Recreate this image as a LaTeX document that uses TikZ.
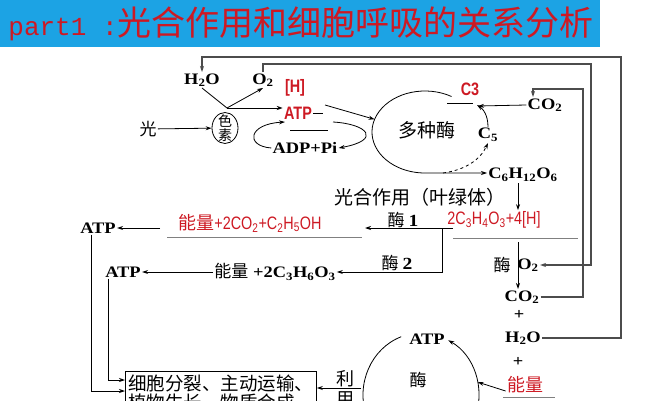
\documentclass[tikz,border=0pt]{standalone}
\usepackage{fontspec}
\setmainfont{Liberation Serif}[FakeStretch=1.15]
\newfontfamily\cjk{Noto Sans CJK SC}
\newfontfamily\labsans{Liberation Sans}[FakeStretch=0.8]
\newfontfamily\titlemono{Liberation Mono}
\usetikzlibrary{arrows.meta,calc,positioning,shapes.geometric}
\definecolor{bannerblue}{RGB}{28,163,228}
\definecolor{markred}{RGB}{205,25,35}

\begin{document}
\begin{tikzpicture}[x=1pt, y=1pt, line width=0.8pt,
    arr/.style={-{Stealth[length=6pt,width=4pt]}},
    back/.style={line width=1.2pt, draw=black!70},
    fml/.style={font=\fontsize{16}{18}\selectfont\bfseries, inner sep=1pt},
    zh/.style={font=\fontsize{17}{19}\selectfont\cjk, inner sep=1pt},
    redtag/.style={font=\fontsize{18}{20}\selectfont\labsans\bfseries, text=markred, inner sep=1pt},
    redfml/.style={font=\fontsize{18}{20}\selectfont\labsans, text=markred, inner sep=1pt},
    underrule/.style={draw=black!50}]
    \useasboundingbox (0,0) rectangle (667,400);
    \clip (0,0) rectangle (667,400);

    % Title banner
    \fill[bannerblue] (0,353) rectangle (600,400);
    \node[anchor=west, text=markred, inner sep=0pt] (title) at (8,376)
        {{\titlemono\fontsize{26}{28}\selectfont part1 :}{\cjk\fontsize{34}{36}\selectfont 光合作用和细胞呼吸的关系分析}};

    % Light reactions
    \node[zh] (light) at (148,271) {光};
    \node[draw, ellipse, minimum width=26, minimum height=31, inner sep=0pt] (pigment) at (225,272) {};
    \node[align=center, inner sep=0pt, font=\fontsize{14}{14}\selectfont\cjk] (pigtext) at (pigment) {色\\素};
    \node[fml] (h2o) at (202,320) {H\textsubscript{2}O};
    \node[fml] (o2) at (263,320) {O\textsubscript{2}};
    \node[redtag] (hydro) at (295,312) {[H]};
    \node[redtag] (atpl) at (298,287) {ATP};
    \node[fml] (adp) at (305,252) {ADP+Pi};
    \coordinate (split) at (227,292);

    \draw[arr] (light) -- (pigment);
    \draw (h2o.south) -- (split);
    \draw[arr] (split) -- (o2.south);
    \draw[arr] (split) -- (split -| atpl.west);
    \draw (atpl.east) -- ++(10,0);
    \draw (290,270) -- (328,270);
    \draw[arr] (adp.west) .. controls (245,254) and (248,276) .. (285,278);

    % Calvin cycle
    \coordinate (cyc) at (425,268);
    \node[zh, font=\fontsize{19}{21}\selectfont\cjk] (multi) at (427,270) {多种酶};
    \node[redtag] (c3) at (470,311) {C3};
    \node[fml] (co2t) at (545,295) {CO\textsubscript{2}};
    \node[fml] (c5) at (488,265) {C\textsubscript{5}};
    \node[fml] (c6) at (523,225) {C\textsubscript{6}H\textsubscript{12}O\textsubscript{6}};
    \node[zh, font=\fontsize{19}{21}\selectfont\cjk] (chloro) at (420,203) {光合作用（叶绿体）};

    \draw[arr] (325,295) -- ($(cyc)+(162:53 and 41)$);
    \draw[arr] (333,278) .. controls (368,276) and (382,260) .. (adp.east);
    \draw[arr] (cyc) ++(60:53 and 41) arc[start angle=60, end angle=270, x radius=53, y radius=41]
        -- (c6.west |- 0,227);
    \draw (447,297) -- (473,297);
    \draw[arr] (co2t.west) -- (478,294);
    \draw[arr] (c5.north) .. controls (488,285) and (483,291) .. (477,295);
    \draw[arr, dashed] (443,227) .. controls (465,230) and (480,240) .. (c5.south);

    % Anaerobic respiration
    \node[redfml] (pyr) at (494,180) {2C\textsubscript{3}H\textsubscript{4}O\textsubscript{3}+4[H]};
    \node[zh] (mei1) at (403,180) {酶 {\rmfamily\bfseries 1}};
    \node[redfml] (ethanol) at (250,177) {{\cjk 能量}+2CO\textsubscript{2}+C\textsubscript{2}H\textsubscript{5}OH};
    \node[fml] (atp1) at (98,172) {ATP};
    \node[fml] (lactate) at (275,128) {{\cjk\mdseries\fontsize{17}{19}\selectfont 能量} +2C\textsubscript{3}H\textsubscript{6}O\textsubscript{3}};
    \node[fml] (atp2) at (123,128) {ATP};
    \node[zh] (mei2) at (397,137) {酶 {\rmfamily\bfseries 2}};
    \coordinate (fork) at (453,172);
    \coordinate (br1) at (442,172);
    \coordinate (ethend) at (365,172);
    \coordinate (ethstart) at (160,172);

    \draw[arr] ([xshift=-5pt]c6.south) -- ([xshift=-5pt]c6.south |- pyr.north);
    \draw[arr] (fork) -- (ethend);
    \draw[underrule] (167,163) -- (362,163);
    \draw[arr] (ethstart) -- (atp1.east);
    \draw[arr] (br1) |- (lactate.east);
    \draw[arr] (lactate.west) -- (atp2.east);

    % Aerobic respiration
    \node[zh] (mei3) at (502,135) {酶};
    \node[fml] (o2b) at (528,135) {O\textsubscript{2}};
    \node[fml] (co2b) at (522,103) {CO\textsubscript{2}};
    \node[fml] (plus1) at (519,85) {+};
    \node[fml] (h2ob) at (523,62) {H\textsubscript{2}O};
    \node[fml] (plus2) at (518,38) {+};
    \node[redfml] (energy) at (525,15) {{\cjk 能量}};
    \draw[underrule] (453,162) -- (578,162);
    \draw[arr] (518,158) -- ([xshift=-4pt]co2b.north);
    \draw[underrule] (503,3) -- (555,3);

    % Feedback lines
    \draw[back, arr] (h2ob.east) -| (621,343) -| (h2o.north);
    \draw[back, arr] (o2.north) |- (591,336) |- (o2b.east);
    \draw[back, arr] (co2b.east) -| (583,311) -| ([xshift=-12pt]co2t.north);

    % ATP use
    \coordinate (bc) at (421,5);
    \node[fml] (atp3) at (427,61) {ATP};
    \node[zh] (mei4) at (418,20) {酶};
    \node[zh, font=\fontsize{18}{20}\selectfont\cjk] (li) at (345,21) {利};
    \node[zh, font=\fontsize{18}{20}\selectfont\cjk] (yong) at (345,1) {用};
    \node[draw, anchor=north west, text width=185, inner sep=3pt, align=left,
          font=\fontsize{18.5}{19.5}\selectfont\cjk] (cellbox) at (125,29)
        {细胞分裂、主动运输、\\植物生长、物质合成};
    \coordinate (useend) at (361,12);

    \draw (bc) ++(110:58 and 62) arc[start angle=110, end angle=200, x radius=58, y radius=62];
    \draw[arr] (bc) ++(-20:58 and 62) arc[start angle=-20, end angle=62, x radius=58, y radius=62];
    \draw[arr] ([yshift=-6pt]energy.west) -- ($(bc)+(12:58 and 62)$);
    \draw[arr] (useend) -- (useend -| cellbox.east);
    \draw[arr] ([xshift=-7pt]atp1.south) |- ([yshift=-20pt]cellbox.north west);
    \draw[arr] ([xshift=-15pt]atp2.south) |- ([yshift=-9pt]cellbox.north west);
\end{tikzpicture}
\end{document}
